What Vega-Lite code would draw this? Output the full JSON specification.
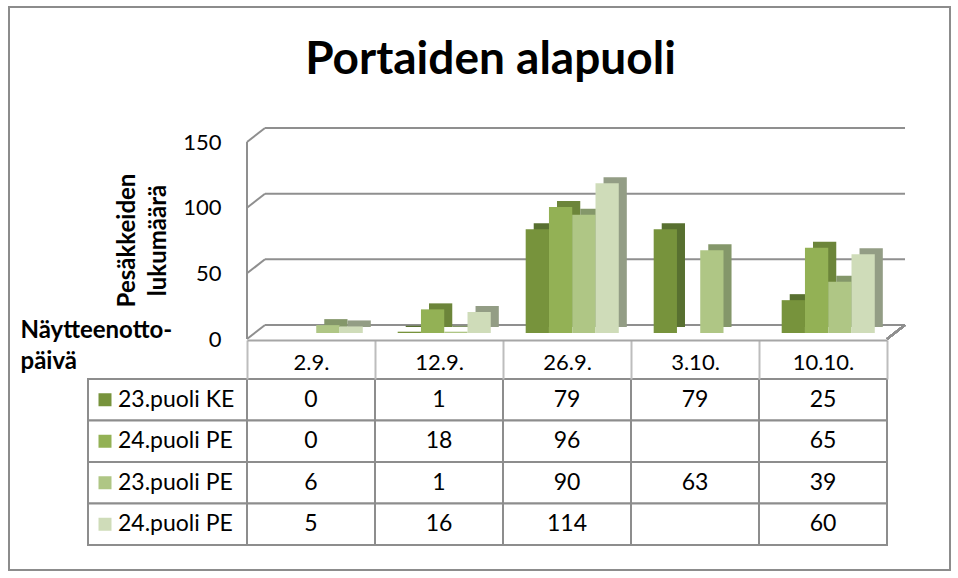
{
  "$schema": "https://vega.github.io/schema/vega-lite/v6.json",
  "width": 941,
  "height": 563,
  "autosize": {"type": "none"},
  "padding": {"left": 9, "top": 7, "right": 8, "bottom": 8},
  "background": "white",
  "title": {
    "text": "Portaiden alapuoli",
    "font": "Lato",
    "fontSize": 46,
    "fontWeight": "bold",
    "color": "black",
    "anchor": "middle",
    "frame": "group",
    "dx": 11,
    "dy": 45,
    "offset": -68,
    "baseline": "alphabetic"
  },
  "config": {
    "view": {"stroke": "#8c8c8c", "strokeWidth": 2},
    "font": "Lato"
  },
  "data": {
    "values": [
      {"date": "2.9.", "s": "s1", "label": "23.puoli KE", "value": 0},
      {"date": "2.9.", "s": "s2", "label": "24.puoli PE", "value": 0},
      {"date": "2.9.", "s": "s3", "label": "23.puoli PE", "value": 6},
      {"date": "2.9.", "s": "s4", "label": "24.puoli PE", "value": 5},
      {"date": "12.9.", "s": "s1", "label": "23.puoli KE", "value": 1},
      {"date": "12.9.", "s": "s2", "label": "24.puoli PE", "value": 18},
      {"date": "12.9.", "s": "s3", "label": "23.puoli PE", "value": 1},
      {"date": "12.9.", "s": "s4", "label": "24.puoli PE", "value": 16},
      {"date": "26.9.", "s": "s1", "label": "23.puoli KE", "value": 79},
      {"date": "26.9.", "s": "s2", "label": "24.puoli PE", "value": 96},
      {"date": "26.9.", "s": "s3", "label": "23.puoli PE", "value": 90},
      {"date": "26.9.", "s": "s4", "label": "24.puoli PE", "value": 114},
      {"date": "3.10.", "s": "s1", "label": "23.puoli KE", "value": 79},
      {"date": "3.10.", "s": "s2", "label": "24.puoli PE", "value": null},
      {"date": "3.10.", "s": "s3", "label": "23.puoli PE", "value": 63},
      {"date": "3.10.", "s": "s4", "label": "24.puoli PE", "value": null},
      {"date": "10.10.", "s": "s1", "label": "23.puoli KE", "value": 25},
      {"date": "10.10.", "s": "s2", "label": "24.puoli PE", "value": 65},
      {"date": "10.10.", "s": "s3", "label": "23.puoli PE", "value": 39},
      {"date": "10.10.", "s": "s4", "label": "24.puoli PE", "value": 60}
    ]
  },
  "resolve": {"scale": {"y": "independent", "xOffset": "independent", "color": "independent"}},
  "layer": [
    {
      "data": {"values": [{"v": 0}, {"v": 50}, {"v": 100}, {"v": 150}]},
      "mark": {"type": "rule", "color": "#8f8f8f", "strokeWidth": 2, "xOffset": 18, "x2Offset": 18, "yOffset": -8},
      "encoding": {
        "x": {"datum": "2.9.", "type": "nominal", "bandPosition": 0,
              "scale": {"type": "band", "domain": ["2.9.", "12.9.", "26.9.", "3.10.", "10.10."], "range": [238, 878], "paddingInner": 0, "paddingOuter": 0},
              "axis": {
                "orient": "bottom", "offset": -230, "grid": false, "zindex": 1,
                "labelFont": "Lato", "labelFontSize": 22, "labelColor": "black", "labelAngle": 0,
                "labelBaseline": "middle", "labelPadding": -17,
                "tickBand": "extent", "tickSize": 39, "tickColor": "#bdbdbd", "tickWidth": 2,
                "domainColor": "#a6a6a6", "domainWidth": 2,
                "title": ["Näytteenotto-", "päivä"],
                "titleFont": "Lato", "titleFontSize": 24, "titleFontWeight": "bold", "titleColor": "black",
                "titleAlign": "left", "titleBaseline": "alphabetic", "titleX": 11, "titleY": -3, "titleLineHeight": 31
              }},
        "x2": {"datum": "10.10.", "bandPosition": 1},
        "y": {"field": "v", "type": "quantitative", "axis": null,
              "scale": {"domain": [0, 150], "range": [326, 129], "nice": false}}
      }
    },
    {
      "data": {"values": [{"v": 0}, {"v": 50}, {"v": 100}, {"v": 150}]},
      "mark": {"type": "rule", "color": "#8f8f8f", "strokeWidth": 2, "x2Offset": 18, "yOffset": 6, "y2Offset": -8},
      "encoding": {
        "x": {"datum": "2.9.", "type": "nominal", "bandPosition": 0},
        "x2": {"datum": "2.9.", "bandPosition": 0},
        "y": {"field": "v", "type": "quantitative", "axis": null,
              "scale": {"domain": [0, 150], "range": [326, 129], "nice": false}},
        "y2": {"field": "v"}
      }
    },
    {
      "mark": {"type": "rule", "color": "#8f8f8f", "strokeWidth": 2, "x2Offset": 18, "yOffset": 6, "y2Offset": -8},
      "encoding": {
        "x": {"datum": "10.10.", "type": "nominal", "bandPosition": 1},
        "x2": {"datum": "10.10.", "bandPosition": 1},
        "y": {"datum": 0, "type": "quantitative", "axis": null,
              "scale": {"domain": [0, 150], "range": [326, 129], "nice": false}},
        "y2": {"datum": 0}
      }
    },
    {
      "mark": {"type": "rule", "color": "#8f8f8f", "strokeWidth": 2, "yOffset": 6, "y2Offset": 6},
      "encoding": {
        "x": {"datum": "2.9.", "type": "nominal", "bandPosition": 0},
        "y": {"datum": 150, "type": "quantitative", "axis": null,
              "scale": {"domain": [0, 150], "range": [326, 129], "nice": false}},
        "y2": {"datum": 0}
      }
    },
    {
      "transform": [{"filter": "datum.value != null"}],
      "mark": {"type": "bar", "yOffset": -6},
      "encoding": {
        "x": {"field": "date", "type": "nominal"},
        "xOffset": {"field": "s", "type": "nominal",
                    "scale": {"domain": ["s1", "s2", "s3", "s4"], "paddingInner": 0, "paddingOuter": 0.75, "align": 0.88}},
        "y": {"field": "value", "type": "quantitative", "axis": null,
              "scale": {"domain": [0, 150], "range": [326, 129], "nice": false}},
        "color": {"field": "s", "type": "nominal", "legend": null,
                  "scale": {"domain": ["s1", "s2", "s3", "s4"], "range": ["#587030", "#6c853a", "#84976a", "#939d85"]}}
      }
    },
    {
      "transform": [{"filter": "datum.value != null"}],
      "mark": {"type": "bar"},
      "encoding": {
        "x": {"field": "date", "type": "nominal"},
        "xOffset": {"field": "s", "type": "nominal",
                    "scale": {"domain": ["s1", "s2", "s3", "s4"], "paddingInner": 0, "paddingOuter": 0.75, "align": 0.65}},
        "y": {"field": "value", "type": "quantitative",
              "scale": {"domain": [0, 150], "range": [326, 129], "nice": false},
              "axis": {
                "orient": "left", "offset": -238, "values": [0, 50, 100, 150],
                "domain": false, "ticks": false, "tickSize": 0, "grid": false,
                "labelFont": "Lato", "labelFontSize": 22, "labelColor": "black", "labelPadding": 26, "labelOffset": 6,
                "title": ["Pesäkkeiden", "lukumäärä"],
                "titleFont": "Lato", "titleFontSize": 24, "titleFontWeight": "bold", "titleColor": "black",
                "titlePadding": 12, "titleLineHeight": 31, "titleY": 233
              }},
        "color": {"field": "s", "type": "nominal", "legend": null,
                  "scale": {"domain": ["s1", "s2", "s3", "s4"], "range": ["#77933c", "#93b155", "#afc685", "#cfdcb9"]}}
      }
    },
    {
      "mark": {"type": "rect", "fill": "white", "stroke": "#8d8d8d", "strokeWidth": 2},
      "encoding": {
        "x": {"field": "date", "type": "nominal"},
        "y": {"field": "s", "type": "nominal", "axis": null,
              "scale": {"type": "band", "domain": ["s1", "s2", "s3", "s4"], "range": [372, 538], "paddingInner": 0, "paddingOuter": 0}}
      }
    },
    {
      "transform": [{"filter": "datum.date == '2.9.'"}],
      "mark": {"type": "rect", "fill": "white", "stroke": "#8d8d8d", "strokeWidth": 2, "xOffset": -159},
      "encoding": {
        "x": {"datum": "2.9.", "type": "nominal", "bandPosition": 0},
        "x2": {"datum": "2.9.", "bandPosition": 0},
        "y": {"field": "s", "type": "nominal", "axis": null,
              "scale": {"type": "band", "domain": ["s1", "s2", "s3", "s4"], "range": [372, 538], "paddingInner": 0, "paddingOuter": 0}}
      }
    },
    {
      "transform": [{"filter": "datum.value != null"}],
      "mark": {"type": "text", "font": "Lato", "fontSize": 23, "color": "black", "baseline": "middle", "align": "center"},
      "encoding": {
        "x": {"field": "date", "type": "nominal"},
        "y": {"field": "s", "type": "nominal", "axis": null,
              "scale": {"type": "band", "domain": ["s1", "s2", "s3", "s4"], "range": [372, 538], "paddingInner": 0, "paddingOuter": 0}},
        "text": {"field": "value", "type": "quantitative"}
      }
    },
    {
      "transform": [{"filter": "datum.date == '2.9.'"}],
      "mark": {"type": "text", "font": "Lato", "fontSize": 23, "color": "black", "baseline": "middle", "align": "left", "xOffset": -129},
      "encoding": {
        "x": {"datum": "2.9.", "type": "nominal", "bandPosition": 0},
        "y": {"field": "s", "type": "nominal", "axis": null,
              "scale": {"type": "band", "domain": ["s1", "s2", "s3", "s4"], "range": [372, 538], "paddingInner": 0, "paddingOuter": 0}},
        "text": {"field": "label", "type": "nominal"}
      }
    },
    {
      "transform": [{"filter": "datum.date == '2.9.'"}],
      "mark": {"type": "square", "size": 169, "filled": true, "opacity": 1, "xOffset": -142},
      "encoding": {
        "x": {"datum": "2.9.", "type": "nominal", "bandPosition": 0},
        "y": {"field": "s", "type": "nominal", "axis": null,
              "scale": {"type": "band", "domain": ["s1", "s2", "s3", "s4"], "range": [372, 538], "paddingInner": 0, "paddingOuter": 0}},
        "color": {"field": "s", "type": "nominal", "legend": null,
                  "scale": {"domain": ["s1", "s2", "s3", "s4"], "range": ["#77933c", "#93b155", "#afc685", "#cfdcb9"]}}
      }
    }
  ]
}
